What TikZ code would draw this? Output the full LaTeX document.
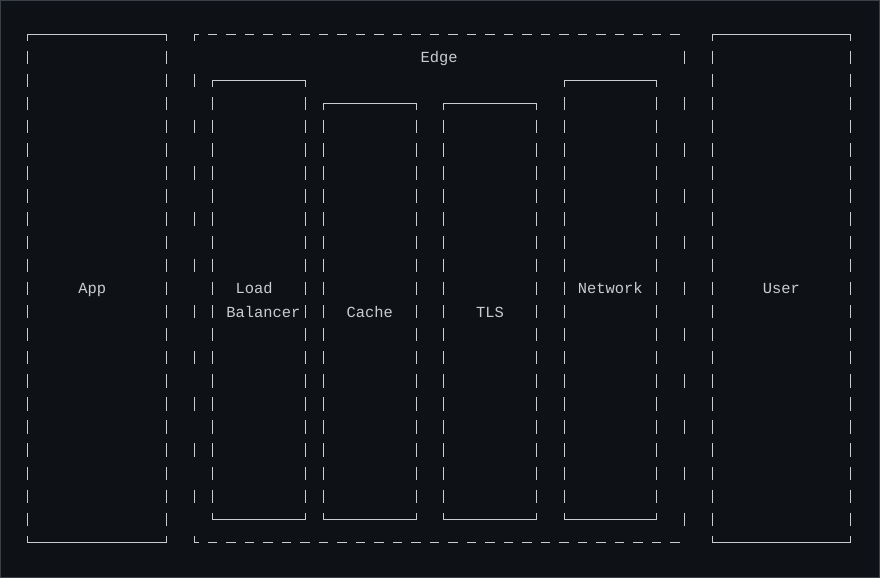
\documentclass[tikz,border=0pt]{standalone}
\usepackage{fontspec}
\setmonofont{Liberation Mono}
\definecolor{bg}{HTML}{0E1116}
\definecolor{fg}{HTML}{C9CDD1}
\definecolor{framec}{HTML}{3C4148}
\tikzset{
  ln/.style={draw=fg, line width=1.3pt},
  lbl/.style={text=fg, font=\ttfamily\fontsize{15.4}{18}\selectfont, inner sep=0pt, anchor=base},
  declare function={cx(\k)=round(27+9.25*\k)+0.5; hy(\r)=round(34+23.1*\r)+0.5; ry(\r)=34.3+23.1*\r; tx(\k)=27.5+9.25*\k;}
}
% vertical bar glyph at column #1, row #2
\newcommand{\vglyph}[2]{\draw[ln] ({cx(#1)},{ry(#2)-6.7}) -- ({cx(#1)},{ry(#2)+6.7});}
% solid ascii box: left col, right col, top row, bottom row
\newcommand{\asciibox}[4]{%
  \draw[ln] ({cx(#1)},{hy(#3)+6.5}) -- ({cx(#1)},{hy(#3)}) -- ({cx(#2)},{hy(#3)}) -- ({cx(#2)},{hy(#3)+6.5});
  \draw[ln] ({cx(#1)},{hy(#4)-6.5}) -- ({cx(#1)},{hy(#4)}) -- ({cx(#2)},{hy(#4)}) -- ({cx(#2)},{hy(#4)-6.5});
  \foreach \r in {\the\numexpr#3+1\relax,...,\the\numexpr#4-1\relax}{%
    \vglyph{#1}{\r}\vglyph{#2}{\r}}%
}
\begin{document}
\begin{tikzpicture}[x=1pt,y=-1pt]
\fill[bg] (0,0) rectangle (880,578);
\draw[framec, line width=1pt] (0.5,0.5) rectangle (879.5,577.5);
\useasboundingbox (0,0) rectangle (880,578);
% App
\asciibox{0}{15}{0}{22}
% User
\asciibox{74}{89}{0}{22}
% Load Balancer
\asciibox{20}{30}{2}{21}
% Cache
\asciibox{32}{42}{3}{21}
% TLS
\asciibox{45}{55}{3}{21}
% Network
\asciibox{58}{68}{2}{21}
% Edge (dashed)
\draw[ln] ({cx(18)},{hy(0)+6.5}) -- ({cx(18)},{hy(0)}) -- ({tx(18.5)},{hy(0)});
\draw[ln] ({cx(18)},{hy(22)-6.5}) -- ({cx(18)},{hy(22)}) -- ({tx(18.5)},{hy(22)});
\foreach \c in {20,22,...,70}{
  \draw[ln] ({tx(\c-0.5)},{hy(0)}) -- ({tx(\c+0.5)},{hy(0)});
  \draw[ln] ({tx(\c-0.5)},{hy(22)}) -- ({tx(\c+0.5)},{hy(22)});
}
\foreach \r in {2,4,...,20}{\vglyph{18}{\r}}
\foreach \r in {1,3,...,21}{\vglyph{71}{\r}}
% labels
\node[lbl] (edge) at ({tx(44.5)},{ry(1)+5.5}) {Edge};
\node[lbl] (app) at ({tx(7)},{ry(11)+5.5}) {App};
\node[lbl] (load) at ({tx(24.5)},{ry(11)+5.5}) {Load};
\node[lbl] (balancer) at ({tx(25.5)},{ry(12)+5.5}) {Balancer};
\node[lbl] (cache) at ({tx(37)},{ry(12)+5.5}) {Cache};
\node[lbl] (tls) at ({tx(50)},{ry(12)+5.5}) {TLS};
\node[lbl] (network) at ({tx(63)},{ry(11)+5.5}) {Network};
\node[lbl] (user) at ({tx(81.5)},{ry(11)+5.5}) {User};
\end{tikzpicture}
\end{document}
